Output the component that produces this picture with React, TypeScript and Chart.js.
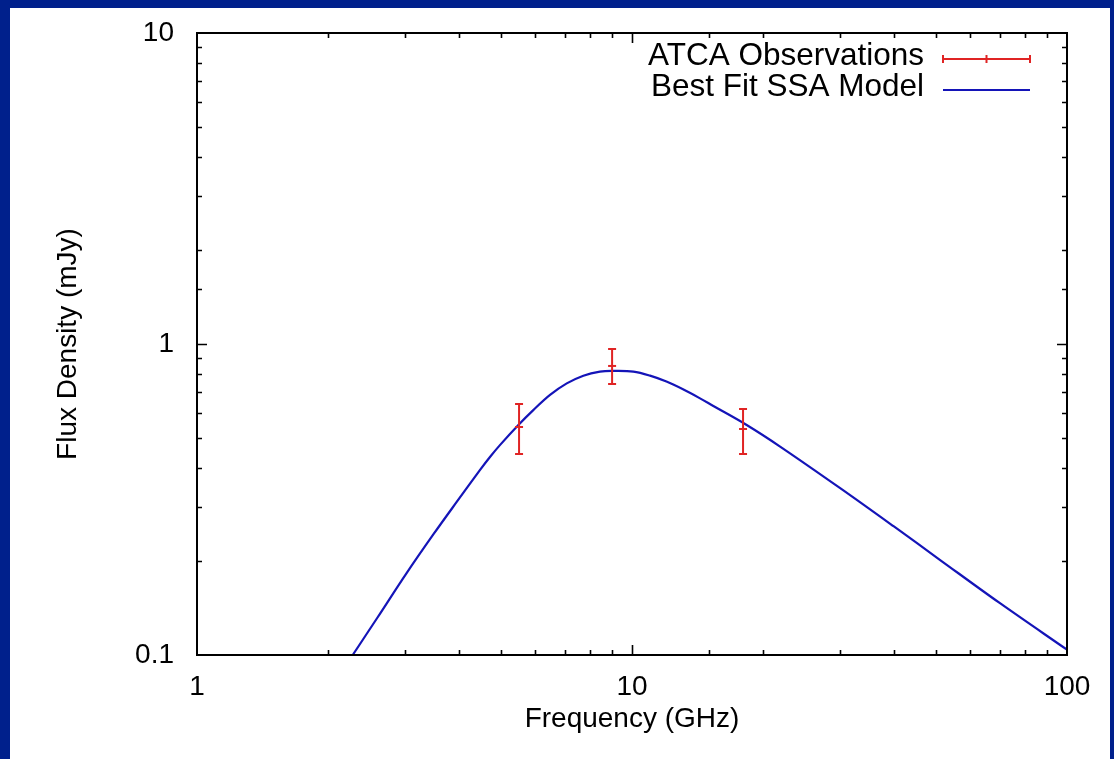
import React, { useEffect, useRef } from 'react';
import { Chart, registerables } from 'chart.js';

Chart.register(...registerables);

// ---- data ----
const curveFreq = [2.28, 2.6, 3.03, 3.5, 3.95, 4.47, 4.72, 4.97, 5.48, 5.93, 6.48, 7.08, 7.73, 8.44, 9.06, 10.07, 11.0, 12.0, 13.1, 14.3, 15.38, 18.35, 21.9, 30.1, 40, 51.1, 70, 100];
const curveFlux = [0.100, 0.132, 0.183, 0.245, 0.310, 0.393, 0.434, 0.473, 0.549, 0.613, 0.686, 0.747, 0.791, 0.815, 0.819, 0.815, 0.791, 0.757, 0.715, 0.670, 0.632, 0.549, 0.468, 0.344, 0.259, 0.202, 0.147, 0.104];

const obsFreq = [5.5, 9.0, 18.0];
const obsFlux = [0.541, 0.85, 0.533];
const obsLow = [0.443, 0.744, 0.443];
const obsHigh = [0.641, 0.964, 0.618];

const xRange = [1, 100];
const yRange = [0.1, 10];
const seriesLabels = ['ATCA Observations', 'Best Fit SSA Model'];
const axisTitles = ['Frequency (GHz)', 'Flux Density (mJy)'];

const FONT = '"Liberation Sans", Arial, Helvetica, sans-serif';
const RED = '#e02424';
const BLUE = '#1414b8';
const FRAME_BLUE = '#00208c';

const isPow10 = (v: number) => {
  const l = Math.log10(v);
  return Math.abs(l - Math.round(l)) < 1e-6;
};
const fmt = (v: number) => (isPow10(v) ? String(Number(v.toPrecision(1))) : '');

const framePlugin = {
  id: 'frameTicks',
  afterDatasetsDraw(chart: any) {
    const { ctx, chartArea: a, scales } = chart;
    ctx.save();
    ctx.strokeStyle = '#000';
    ctx.lineWidth = 1.6;
    const major = 10;
    const minor = 5;
    scales.x.ticks.forEach((t: any) => {
      const px = Math.round(scales.x.getPixelForValue(t.value)) + 0.5;
      if (px <= a.left + 1 || px >= a.right - 1) return;
      const len = isPow10(t.value) ? major : minor;
      ctx.beginPath();
      ctx.moveTo(px, a.bottom);
      ctx.lineTo(px, a.bottom - len);
      ctx.moveTo(px, a.top);
      ctx.lineTo(px, a.top + len);
      ctx.stroke();
    });
    scales.y.ticks.forEach((t: any) => {
      const py = Math.round(scales.y.getPixelForValue(t.value)) + 0.5;
      if (py <= a.top + 1 || py >= a.bottom - 1) return;
      const len = isPow10(t.value) ? major : minor;
      ctx.beginPath();
      ctx.moveTo(a.left, py);
      ctx.lineTo(a.left + len, py);
      ctx.moveTo(a.right, py);
      ctx.lineTo(a.right - len, py);
      ctx.stroke();
    });
    ctx.lineWidth = 2;
    ctx.strokeRect(a.left, a.top, a.right - a.left, a.bottom - a.top);
    ctx.restore();
  },
};

const errorBarPlugin = {
  id: 'errorBars',
  afterDatasetsDraw(chart: any) {
    const { ctx, scales } = chart;
    ctx.save();
    ctx.strokeStyle = RED;
    ctx.lineWidth = 2;
    const cap = 4;
    obsFreq.forEach((f, i) => {
      const x = scales.x.getPixelForValue(f);
      const yl = scales.y.getPixelForValue(obsLow[i]);
      const yh = scales.y.getPixelForValue(obsHigh[i]);
      ctx.beginPath();
      ctx.moveTo(x, yl);
      ctx.lineTo(x, yh);
      ctx.moveTo(x - cap, yl);
      ctx.lineTo(x + cap, yl);
      ctx.moveTo(x - cap, yh);
      ctx.lineTo(x + cap, yh);
      ctx.stroke();
    });
    ctx.restore();
  },
};

const legendPlugin = {
  id: 'gnuLegend',
  afterDraw(chart: any) {
    const { ctx } = chart;
    const textRight = 914;
    const x0 = 933;
    const x1 = 1020;
    const rows = [48, 79];
    const lineRows = [51, 82];
    ctx.save();
    ctx.font = `31.5px ${FONT}`;
    ctx.fillStyle = '#000';
    ctx.textAlign = 'right';
    ctx.textBaseline = 'middle';
    seriesLabels.forEach((lab, i) => ctx.fillText(lab, textRight, rows[i]));
    ctx.strokeStyle = RED;
    ctx.lineWidth = 2;
    ctx.beginPath();
    const y = lineRows[0];
    ctx.moveTo(x0, y);
    ctx.lineTo(x1, y);
    [x0, (x0 + x1) / 2, x1].forEach((x) => {
      ctx.moveTo(x, y - 4);
      ctx.lineTo(x, y + 4);
    });
    ctx.stroke();
    ctx.strokeStyle = BLUE;
    ctx.lineWidth = 2.2;
    ctx.beginPath();
    ctx.moveTo(x0, lineRows[1]);
    ctx.lineTo(x1, lineRows[1]);
    ctx.stroke();
    ctx.restore();
  },
};

export default function App() {
  const canvasRef = useRef<HTMLCanvasElement>(null);

  useEffect(() => {
    if (!canvasRef.current) return;
    const chart = new Chart(canvasRef.current, {
      type: 'scatter',
      data: {
        datasets: [
          {
            label: seriesLabels[0],
            data: obsFreq.map((f, i) => ({ x: f, y: obsFlux[i] })),
            showLine: false,
            pointStyle: 'line',
            pointRadius: 4,
            borderColor: RED,
            backgroundColor: RED,
            borderWidth: 2,
          },
          {
            label: seriesLabels[1],
            data: curveFreq.map((f, i) => ({ x: f, y: curveFlux[i] })),
            showLine: true,
            pointRadius: 0,
            borderColor: BLUE,
            backgroundColor: BLUE,
            borderWidth: 2.2,
            tension: 0.35,
          },
        ],
      },
      options: {
        responsive: false,
        animation: false,
        events: [],
        layout: { padding: { left: 0, top: 25, right: 43, bottom: 0 } },
        plugins: {
          legend: { display: false },
          tooltip: { enabled: false },
        },
        scales: {
          x: {
            type: 'logarithmic',
            position: 'bottom',
            min: xRange[0],
            max: xRange[1],
            grid: { display: false, drawTicks: false },
            border: { display: false },
            ticks: {
              autoSkip: false,
              maxRotation: 0,
              padding: 18,
              color: '#000',
              font: { family: FONT, size: 28, lineHeight: 1 },
              callback: (v: any) => fmt(Number(v)),
            },
            title: {
              display: true,
              text: axisTitles[0],
              color: '#000',
              font: { family: FONT, size: 28, lineHeight: 1 },
              padding: { top: 0, bottom: 26 },
            },
            afterFit: (s: any) => {
              s.height = 104;
            },
          },
          y: {
            type: 'logarithmic',
            position: 'left',
            min: yRange[0],
            max: yRange[1],
            grid: { display: false, drawTicks: true, tickLength: 23 },
            border: { display: false },
            ticks: {
              autoSkip: false,
              padding: 0,
              color: '#000',
              font: { family: FONT, size: 28, lineHeight: 1 },
              callback: (v: any) => fmt(Number(v)),
            },
            title: {
              display: true,
              text: axisTitles[1],
              color: '#000',
              font: { family: FONT, size: 28, lineHeight: 1 },
              padding: { top: 44, bottom: 0 },
            },
            afterFit: (s: any) => {
              s.width = 187;
            },
          },
        },
      },
      plugins: [framePlugin, errorBarPlugin, legendPlugin],
    } as any);
    return () => chart.destroy();
  }, []);

  return (
    <div
      style={{
        position: 'fixed',
        left: 0,
        top: 0,
        width: 1114,
        height: 759,
        background: FRAME_BLUE,
      }}
    >
      <div
        style={{
          position: 'absolute',
          left: 10,
          top: 8,
          width: 1100,
          height: 751,
          background: '#fff',
        }}
      >
        <canvas ref={canvasRef} width={1100} height={751} style={{ display: 'block' }} />
      </div>
    </div>
  );
}
